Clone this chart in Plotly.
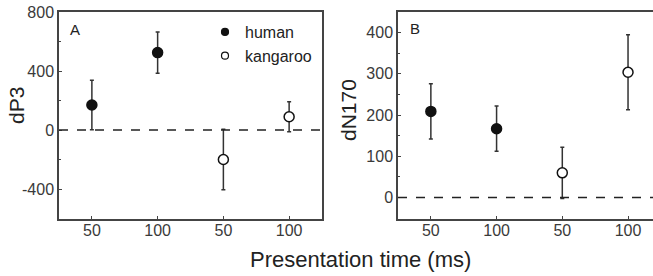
import plotly.graph_objects as go

# Data
conditions = [1, 2, 3, 4]
tick_labels = ["50", "100", "50", "100"]
species = ["human", "human", "kangaroo", "kangaroo"]

dP3_mean = [170, 525, -200, 90]
dP3_err = [168, 140, 205, 102]
dP3_ticks = [-400, 0, 400, 800]

dN170_mean = [209, 167, 60, 304]
dN170_err = [67, 55, 62, 91]
dN170_ticks = [0, 100, 200, 300, 400]

FONT = "Liberation Sans, Arial, sans-serif"
AXC = "#444444"
TXT = "#3a3a3a"

fig = go.Figure()

def add_panel(means, errs, xa, ya):
    for sp, fill in [("human", "#111111"), ("kangaroo", "white")]:
        xs = [c for c, s in zip(conditions, species) if s == sp]
        ys = [m for m, s in zip(means, species) if s == sp]
        es = [e for e, s in zip(errs, species) if s == sp]
        fig.add_trace(go.Scatter(
            x=xs, y=ys, mode="markers", xaxis=xa, yaxis=ya, showlegend=False,
            marker=dict(size=10, color=fill, line=dict(color="#111111", width=1.5)),
            error_y=dict(type="data", array=es, visible=True, color="#333333",
                         thickness=1.5, width=2),
        ))

add_panel(dP3_mean, dP3_err, "x", "y")
add_panel(dN170_mean, dN170_err, "x2", "y2")

# legend-only entries
fig.add_trace(go.Scatter(x=[None], y=[None], mode="markers", name="human",
                         marker=dict(size=7, color="#111111", line=dict(color="#111111", width=1.2))))
fig.add_trace(go.Scatter(x=[None], y=[None], mode="markers", name="kangaroo",
                         marker=dict(size=7, color="white", line=dict(color="#111111", width=1.2))))

# zero lines
for xr, yr in [("x", "y"), ("x2", "y2")]:
    fig.add_shape(type="line", xref=f"{xr} domain", yref=yr, x0=0, x1=1, y0=0, y1=0,
                  line=dict(color="#222222", width=1.5, dash="dash"))

common_x = dict(tickmode="array", tickvals=conditions, ticktext=tick_labels,
                ticks="inside", ticklen=3, tickcolor=AXC, showline=True, linecolor=AXC,
                linewidth=1.5, showgrid=False, zeroline=False, automargin=False,
                ticklabelstandoff=-4,
                tickfont=dict(size=16, color=TXT, family=FONT))
common_y = dict(ticks="inside", ticklen=3, tickcolor=AXC, showline=True, linecolor=AXC,
                linewidth=1.5, showgrid=False, zeroline=False, automargin=False,
                tickmode="array", tickfont=dict(size=16, color=TXT, family=FONT))

fig.update_layout(
    template="none",
    width=653, height=276,
    margin=dict(l=0, r=0, t=12, b=57),
    plot_bgcolor="white", paper_bgcolor="white",
    font=dict(family=FONT, color=TXT),
    xaxis=dict(domain=[59/653, 322/653], range=[0.5, 4.5], mirror=True, **common_x),
    yaxis=dict(range=[-603, 800], tickvals=dP3_ticks, ticktext=[str(v) for v in dP3_ticks],
               mirror=True,
               minor=dict(dtick=200, tick0=0, ticks="inside", ticklen=2, tickcolor=AXC),
               **common_y),
    xaxis2=dict(domain=[398/653, 1.0], range=[0.5, 4.38], anchor="y2", mirror=True, **common_x),
    yaxis2=dict(range=[-52, 450], tickvals=dN170_ticks, ticktext=[str(v) for v in dN170_ticks],
                anchor="x2",
                minor=dict(dtick=50, tick0=0, ticks="inside", ticklen=2, tickcolor=AXC),
                **common_y),
    legend=dict(x=(245 - 40) / 653, y=1 - (15 - 12) / 207, xanchor="left", yanchor="top",
                bgcolor="rgba(0,0,0,0)", font=dict(size=16, color="#222222", family=FONT),
                itemwidth=30, tracegroupgap=0, borderwidth=0),
    showlegend=True,
)

ann = [
    dict(text="dP3", x=16.5/653, y=1 - (105.5 - 12)/207, textangle=-90, font=dict(size=21, color="#222222")),
    dict(text="dN170", x=348/653, y=1 - (110 - 12)/207, textangle=-90, font=dict(size=21, color="#222222")),
    dict(text="Presentation time (ms)", x=360/653, y=1 - (259 - 12)/207, font=dict(size=22, color="#222222")),
    dict(text="A", x=75/653, y=1 - (30 - 12)/207, font=dict(size=15, color="#222222")),
    dict(text="B", x=415/653, y=1 - (28.5 - 12)/207, font=dict(size=15, color="#222222")),
]
for a in ann:
    fig.add_annotation(xref="paper", yref="paper", showarrow=False,
                       xanchor="center", yanchor="middle", font_family=FONT, **a)

fig.write_html("out.html", config={"displayModeBar": False},
               post_script="document.body.style.margin='0px';document.body.style.overflow='hidden';")
